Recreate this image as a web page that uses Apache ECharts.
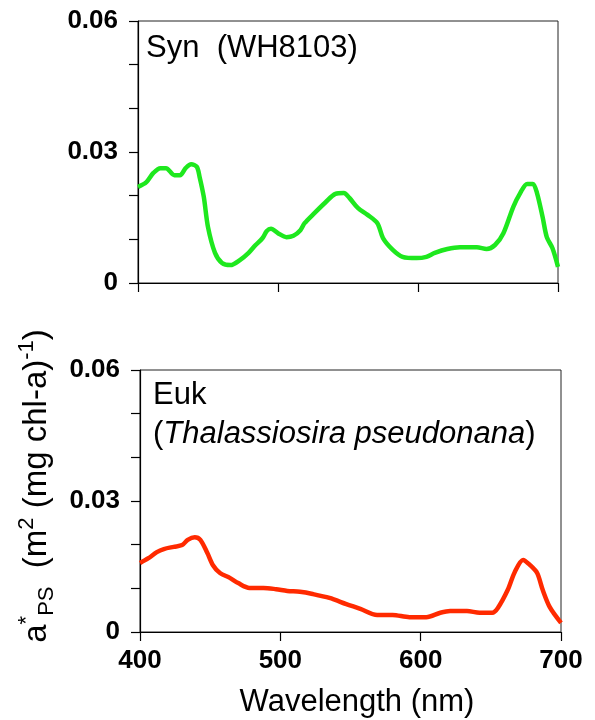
<!DOCTYPE html>
<html>
<head>
<meta charset="utf-8">
<script src="https://cdn.jsdelivr.net/npm/echarts@6/dist/echarts.min.js"></script>
<style>
  html, body { margin: 0; padding: 0; background: #fff; }
  #chart { width: 595px; height: 720px; }
</style>
</head>
<body>
<div id="chart"></div>
<script>
// wavelength (nm) and a*PS values
const synWavelength = [400, 406, 411, 416, 420, 426, 430, 434, 438, 442, 444, 447, 450, 455, 460, 466, 473, 479, 484, 489, 492, 495, 500, 506, 511, 516, 519, 526, 534, 541, 547, 551, 557, 564, 571, 575, 582, 589, 599, 606, 612, 621, 630, 642, 649, 655, 661, 668, 673, 678, 682, 685, 689, 692, 696, 700];
const synValues = [0.0220, 0.0231, 0.0252, 0.0263, 0.0263, 0.0247, 0.0247, 0.0263, 0.0272, 0.0266, 0.0243, 0.0197, 0.0128, 0.0069, 0.0046, 0.0041, 0.0053, 0.0069, 0.0087, 0.0103, 0.0119, 0.0124, 0.0114, 0.0105, 0.0108, 0.0121, 0.0137, 0.0160, 0.0185, 0.0204, 0.0206, 0.0195, 0.0172, 0.0156, 0.0137, 0.0103, 0.0076, 0.0060, 0.0057, 0.0060, 0.0069, 0.0078, 0.0082, 0.0082, 0.0078, 0.0087, 0.0114, 0.0174, 0.0206, 0.0227, 0.0227, 0.0206, 0.0151, 0.0105, 0.0080, 0.0037];

const eukWavelength = [400, 406, 412, 417, 424, 430, 434, 439, 443, 448, 452, 457, 464, 470, 478, 488, 497, 505, 514, 523, 535, 547, 557, 569, 580, 592, 604, 614, 621, 633, 642, 651, 655, 662, 667, 673, 678, 683, 687, 692, 700];
const eukValues = [0.0158, 0.0169, 0.0183, 0.0190, 0.0195, 0.0199, 0.0211, 0.0217, 0.0211, 0.0181, 0.0153, 0.0135, 0.0124, 0.0112, 0.0101, 0.0101, 0.0098, 0.0094, 0.0092, 0.0087, 0.0078, 0.0064, 0.0053, 0.0039, 0.0039, 0.0034, 0.0034, 0.0044, 0.0048, 0.0048, 0.0044, 0.0044, 0.0055, 0.0096, 0.0137, 0.0165, 0.0153, 0.0135, 0.0096, 0.0057, 0.0021];

const xTicks = [400, 500, 600, 700];
const yTickLabels = { 0: "0", 3: "0.03", 6: "0.06" };

const FONT = "Liberation Sans, Arial, sans-serif";

const chart = echarts.init(document.getElementById("chart"));

const pairs = (xs, ys) => xs.map((x, i) => [x, ys[i]]);

const xAxisBase = (showLabels, gridIndex) => ({
  type: "value",
  gridIndex,
  min: xTicks[0],
  max: xTicks[xTicks.length - 1],
  interval: 100,
  axisLine: { lineStyle: { color: "#000", width: 1.2 } },
  axisTick: { show: true, length: 9, lineStyle: { color: "#000", width: 1.2 } },
  axisLabel: {
    show: showLabels,
    margin: 16,
    color: "#000",
    fontFamily: FONT,
    fontWeight: "bold",
    fontSize: 26,
  },
  splitLine: { show: false },
});

const yAxisBase = (gridIndex) => ({
  type: "value",
  gridIndex,
  min: 0,
  max: 0.06,
  interval: 0.01,
  axisLine: { show: true, lineStyle: { color: "#000", width: 1.2 } },
  axisTick: { show: true, length: 9, lineStyle: { color: "#000", width: 1.2 } },
  axisLabel: {
    margin: 20,
    color: "#000",
    fontFamily: FONT,
    fontWeight: "bold",
    fontSize: 26,
    formatter: (v) => yTickLabels[Math.round(v * 100)] || "",
  },
  splitLine: { show: false },
});

const option = {
  animation: false,
  backgroundColor: "#fff",
  grid: [
    { left: 138, right: 37, top: 21, height: 262, show: true, borderColor: "#222", borderWidth: 1, backgroundColor: "transparent" },
    { left: 140, right: 34, top: 370, height: 262, show: true, borderColor: "#222", borderWidth: 1, backgroundColor: "transparent" },
  ],
  xAxis: [xAxisBase(false, 0), xAxisBase(true, 1)],
  yAxis: [yAxisBase(0), yAxisBase(1)],
  series: [
    {
      name: "Syn",
      type: "line",
      xAxisIndex: 0,
      yAxisIndex: 0,
      data: pairs(synWavelength, synValues),
      showSymbol: false,
      smooth: 0.3,
      lineStyle: { color: "#1ee81e", width: 4.5 },
    },
    {
      name: "Euk",
      type: "line",
      xAxisIndex: 1,
      yAxisIndex: 1,
      data: pairs(eukWavelength, eukValues),
      showSymbol: false,
      smooth: 0.3,
      lineStyle: { color: "#ff2a00", width: 4.5 },
    },
  ],
  graphic: [
    {
      type: "text",
      left: 146,
      top: 33,
      style: {
        text: "Syn  (WH8103)",
        fontFamily: FONT,
        fontSize: 31,
        fill: "#000",
      },
    },
    {
      type: "text",
      left: 153,
      top: 380,
      style: {
        text: "{n|Euk}\n{n|(}{i|Thalassiosira pseudonana}{n|)}",
        rich: {
          n: { fontFamily: FONT, fontSize: 31, lineHeight: 39, fill: "#000" },
          i: { fontFamily: FONT, fontSize: 31, lineHeight: 39, fontStyle: "italic", fill: "#000" },
        },
      },
    },
    {
      type: "text",
      x: 357,
      y: 702,
      style: {
        text: "Wavelength (nm)",
        fontFamily: FONT,
        fontSize: 31,
        fill: "#000",
        align: "center",
        verticalAlign: "middle",
      },
    },
    {
      type: "text",
      x: 37,
      y: 486,
      rotation: Math.PI / 2,
      style: {
        text: "{m|a}{sup|*}{sub|PS}{m|  (m}{sup|2}{m| (mg chl-a)}{sup|-1}{m|)}",
        align: "center",
        verticalAlign: "middle",
        rich: {
          m: { fontFamily: FONT, fontSize: 33, lineHeight: 40, verticalAlign: "middle", fill: "#000" },
          sup: { fontFamily: FONT, fontSize: 22, lineHeight: 42, verticalAlign: "top", fill: "#000" },
          sub: { fontFamily: FONT, fontSize: 22, lineHeight: 32, verticalAlign: "bottom", fill: "#000" },
        },
      },
    },
  ],
};

chart.setOption(option);
</script>
</body>
</html>
